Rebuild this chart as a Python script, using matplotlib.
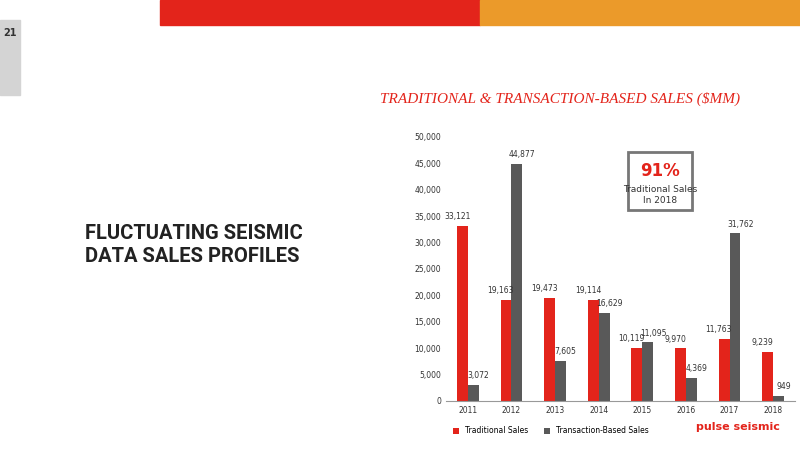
import matplotlib
matplotlib.use("Agg")
import matplotlib.pyplot as plt
from matplotlib.patches import Rectangle
import numpy as np

years = ["2011","2012","2013","2014","2015","2016","2017","2018"]
traditional = [33121, 19163, 19473, 19114, 10119, 9970, 11763, 9239]
transaction = [3072, 44877, 7605, 16629, 11095, 4369, 31762, 949]
yticks = [0,5000,10000,15000,20000,25000,30000,35000,40000,45000,50000]

W, H = 800, 450
fig = plt.figure(figsize=(8, 4.5), dpi=100)
fig.patches.append(Rectangle((160/W, 1-25/H), 320/W, 25/H, transform=fig.transFigure, color="#e3241b"))
fig.patches.append(Rectangle((480/W, 1-25/H), 320/W, 25/H, transform=fig.transFigure, color="#eb9a2a"))
fig.patches.append(Rectangle((0, 1-95/H), 20/W, 75/H, transform=fig.transFigure, color="#d4d4d4"))
fig.text(10/W, 1-33/H, "21", ha="center", va="center", fontsize=7, fontweight="bold", color="#333333")
fig.text(85/W, 1-245/H, "FLUCTUATING SEISMIC\nDATA SALES PROFILES", ha="left", va="center",
         fontsize=14.5, fontweight="bold", color="#222222", family="Roboto", linespacing=1.3)
fig.text(560/W, 1-99/H, "TRADITIONAL & TRANSACTION-BASED SALES ($MM)", ha="center", va="center",
         fontsize=11, style="italic", color="#e3241b", family="Liberation Serif")

ax = fig.add_axes([446/W, 1-401/H, (795-446)/W, (401-137)/H])
x = np.arange(len(years))
w = 0.25
ax.bar(x - w/2, traditional, w, color="#e3241b", label="Traditional Sales")
ax.bar(x + w/2, transaction, w, color="#595959", label="Transaction-Based Sales")
for i in range(len(years)):
    ax.text(x[i]-w/2-0.12, traditional[i]+900, f"{traditional[i]:,}", ha="center", va="bottom", fontsize=5.5, color="#333")
    ax.text(x[i]+w/2+0.12, transaction[i]+900, f"{transaction[i]:,}", ha="center", va="bottom", fontsize=5.5, color="#333")
ax.set_ylim(0, 50000)
ax.set_xlim(-0.5, 7.5)
ax.set_yticks(yticks)
ax.set_yticklabels([f"{v:,}" for v in yticks])
ax.set_xticks(x)
ax.set_xticklabels(years)
ax.tick_params(labelsize=5.5, colors="#333", length=0)
for s in ["top","right","left"]:
    ax.spines[s].set_visible(False)
ax.spines["bottom"].set_color("#999")
ax.legend(loc="upper center", bbox_to_anchor=(0.3, -0.07), ncol=2, frameon=False, fontsize=5.5,
          handlelength=0.8, handleheight=0.8, columnspacing=2)

fig.patches.append(Rectangle((628/W, 1-210/H), 64/W, 58/H, transform=fig.transFigure,
                             fill=False, ec="#777", lw=2))
fig.text(660/W, 1-171/H, "91%", ha="center", va="center", fontsize=12, fontweight="bold", color="#e3241b")
fig.text(660/W, 1-195/H, "Traditional Sales\nIn 2018", ha="center", va="center", fontsize=6.5, color="#333")
fig.text(738/W, 1-427/H, "pulse seismic", ha="center", va="center", fontsize=8, fontweight="bold", color="#e3241b")

fig.savefig("out.png", dpi=100)
